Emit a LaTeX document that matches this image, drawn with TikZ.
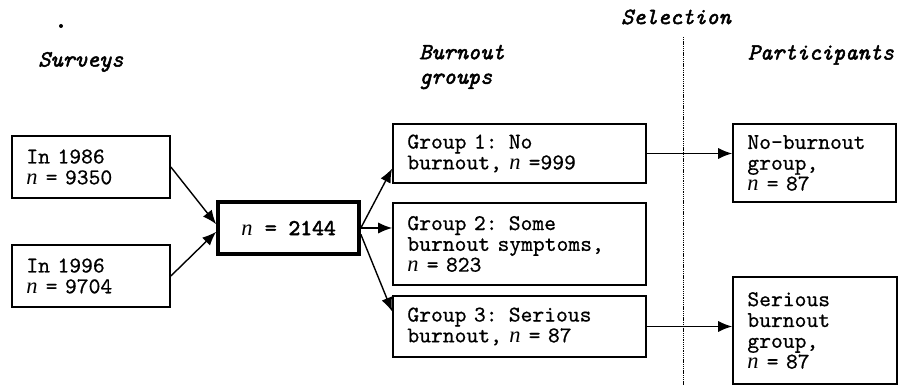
\documentclass[tikz,border=0pt]{standalone}
\usepackage{fontspec}
\newfontfamily\nfont{Liberation Serif}
\newfontfamily\bodyfont{lmmono10-regular.otf}[FakeBold=0.6]
\newfontfamily\heavyfont{lmmono10-regular.otf}[FakeBold=2.5]
\newfontfamily\headfont{lmmono10-italic.otf}[FakeBold=2]
\usepackage{tikz}
\usetikzlibrary{arrows.meta,positioning,calc}

\newcommand{\nn}{\makebox[0.525em][l]{\nfont\itshape n}}
\newcommand{\ttspc}{\spaceskip 0.525em\relax}

\tikzset{
	stage/.style={draw,line width=1.2pt,align=left,inner xsep=0.36cm,inner ysep=0pt,
		font={\fontsize{16}{14.8}\selectfont\bodyfont\ttspc}},
	heading/.style={inner sep=0pt,align=left,
		font={\fontsize{16.5}{17.5}\selectfont\headfont\ttspc}},
	arr/.style={-{Latex[length=3.5mm,width=2.8mm]},line width=1pt}
}

\begin{document}
\begin{tikzpicture}
	\useasboundingbox (0,0) rectangle (22.575,9.65);
	
	% column headings
	\node[heading,anchor=west] (hsurv) at (0.95,8.1) {Surveys};
	\node[heading,anchor=west] (hgrp) at (10.475,7.975) {Burnout\\groups};
	\node[heading] (hsel) at (16.9,9.225) {Selection};
	\node[heading] (hpart) at (20.525,8.275) {Participants};
	\fill (1.525,9.0) circle (0.05);
	
	% selection divider
	\coordinate (septop) at (17.075,8.725);
	\coordinate (sepbot) at (17.075,0);
	\draw[dash pattern=on 0.8pt off 0.5pt,line width=0.7pt] (septop)--(sepbot);
	
	% surveys
	\node[stage,text width=3.23cm,minimum height=1.55cm] (y86) at (2.275,5.475) {In 1986\\\nn{} = 9350};
	\node[stage,text width=3.23cm,minimum height=1.55cm] (y96) at (2.275,2.75) {In 1996\\\nn{} = 9704};
	
	% pooled sample
	\node[stage,line width=2.6pt,align=center,minimum width=3.525cm,minimum height=1.3cm,
		font={\fontsize{16}{14.8}\selectfont\heavyfont\ttspc}] (pool) at (7.2125,3.95) {\nn{} = 2144};
	
	% burnout groups
	\node[stage,text width=5.605cm,minimum height=1.475cm] (grp1) at (12.9875,5.8125) {Group 1: No\\burnout, \nn{} =999};
	\node[stage,text width=5.605cm,minimum height=2.05cm] (grp2) at (12.9875,3.55) {Group 2: Some\\burnout symptoms,\\\nn{} = 823};
	\node[stage,text width=5.605cm,minimum height=1.525cm] (grp3) at (12.9875,1.4875) {Group 3: Serious\\burnout, \nn{} = 87};
	
	% participants
	\node[stage,text width=3.355cm,minimum height=1.95cm] (nob) at (20.3625,5.575) {No-burnout\\group,\\\nn{} = 87};
	\node[stage,text width=3.38cm,minimum height=2.675cm] (ser) at (20.375,1.3875) {Serious\\burnout\\group,\\\nn{} = 87};
	
	% arrows into the pooled sample
	\draw[arr] (y86.east)--(pool.177);
	\draw[arr] (y96.east)--(pool.183);
	
	% arrows to the groups
	\draw[arr] (pool.east)--($(grp1.west)+(0,-0.375)$);
	\draw[arr] (pool.east)--(pool.east -| grp2.west);
	\draw[arr] (pool.-5)--($(grp3.west)+(0,0.375)$);
	
	% arrows for selection
	\draw[arr] (grp1.east)--(grp1.east -| nob.west);
	\draw[arr] (grp3.east)--(grp3.east -| ser.west);
\end{tikzpicture}
\end{document}
